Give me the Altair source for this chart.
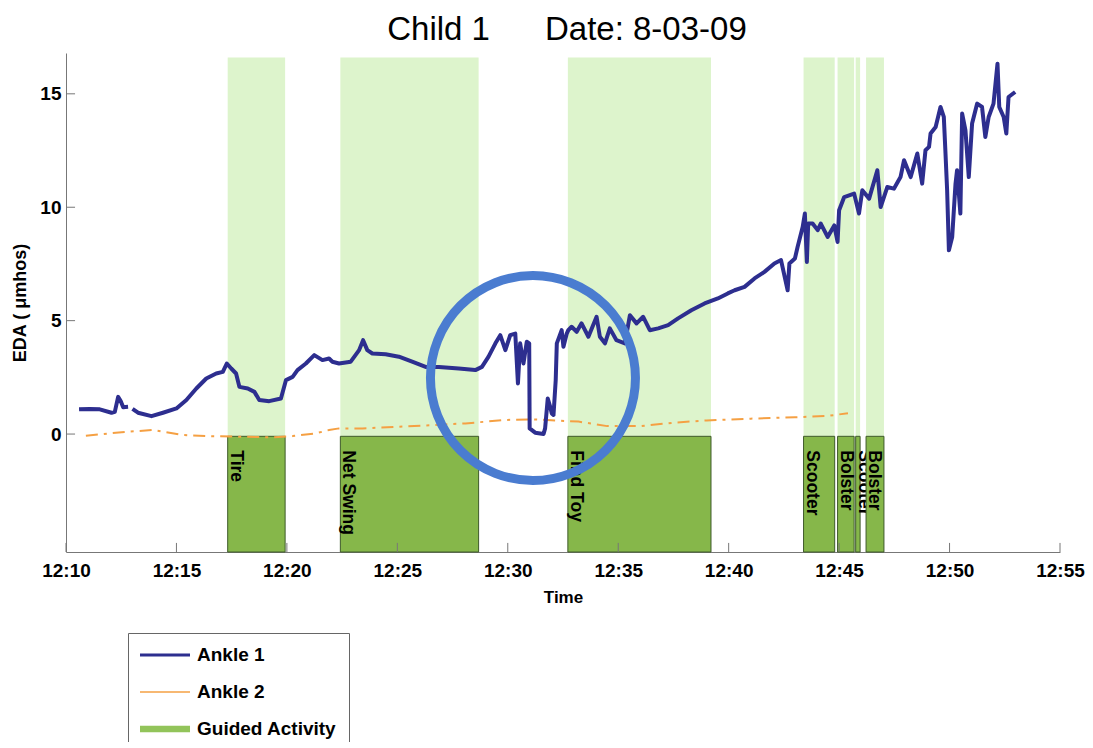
import altair as alt
import pandas as pd

# ---------------- data ----------------
# time in minutes after 12:00
ankle1_min = [10.59, 11.08, 11.53, 12.06, 12.21, 12.36, 12.47, 12.59, 12.81, 13.01, 13.26, 13.87,
              14.39, 15.00, 15.45, 15.90, 16.35, 16.80, 17.10, 17.28, 17.48, 17.70, 17.85, 18.23,
              18.53, 18.75, 19.20, 19.73, 19.96, 20.26, 20.48, 20.86, 21.24, 21.61, 21.91, 22.06,
              22.36, 22.89, 23.27, 23.45, 23.64, 23.87, 24.47, 25.07, 25.67, 26.28, 26.88, 27.78,
              28.53, 28.83, 29.13, 29.44, 29.66, 29.89, 30.11, 30.34, 30.46, 30.56, 30.71, 30.86,
              30.97, 30.99, 31.24, 31.62, 31.69, 31.81, 31.92, 31.99, 32.07, 32.17, 32.22, 32.44,
              32.52, 32.67, 32.74, 32.89, 33.12, 33.34, 33.65, 34.02, 34.17, 34.40, 34.62, 34.92,
              35.30, 35.53, 35.83, 36.13, 36.43, 36.81, 37.26, 37.71, 38.31, 38.91, 39.51, 39.96,
              40.27, 40.72, 41.17, 41.62, 42.07, 42.37, 42.67, 42.75, 43.00, 43.12, 43.35, 43.45,
              43.54, 43.60, 43.80, 44.03, 44.17, 44.48, 44.78, 44.93, 45.00, 45.23, 45.68, 45.90,
              46.05, 46.36, 46.73, 46.88, 47.18, 47.48, 47.78, 47.94, 48.24, 48.54, 48.76, 48.91,
              49.07, 49.14, 49.37, 49.59, 49.74, 49.81, 49.89, 49.97, 50.12, 50.27, 50.34, 50.49,
              50.57, 50.72, 50.87, 51.02, 51.25, 51.47, 51.62, 51.77, 51.99, 52.17, 52.25, 52.45,
              52.57, 52.67, 52.97]
ankle1_eda = [1.09, 1.11, 1.09, 0.94, 0.98, 1.64, 1.47, 1.18, 1.20, 1.11, 0.94, 0.79,
              0.94, 1.13, 1.50, 2.01, 2.45, 2.67, 2.74, 3.11, 2.89, 2.67, 2.08, 2.01,
              1.86, 1.50, 1.45, 1.57, 2.38, 2.52, 2.82, 3.11, 3.48, 3.26, 3.33, 3.19,
              3.11, 3.19, 3.70, 4.14, 3.70, 3.55, 3.52, 3.41, 3.19, 2.96, 2.96, 2.89,
              2.82, 2.96, 3.41, 4.00, 4.36, 3.70, 4.36, 4.43, 2.23, 4.00, 3.11, 4.07,
              4.00, 0.25, 0.06, 0.00, 0.25, 1.57, 1.20, 0.91, 0.84, 2.38, 4.00, 4.58,
              3.85, 4.43, 4.58, 4.73, 4.51, 4.88, 4.29, 5.17, 4.29, 4.00, 4.66, 4.14,
              4.00, 5.24, 4.88, 5.17, 4.58, 4.66, 4.80, 5.10, 5.46, 5.76, 5.98, 6.20,
              6.34, 6.49, 6.86, 7.15, 7.52, 7.67, 6.34, 7.52, 7.74, 8.25, 9.13, 9.72,
              7.59, 9.28, 9.28, 8.99, 9.28, 8.69, 9.20, 8.47, 9.87, 10.45, 10.60, 9.72,
              10.75, 10.38, 11.63, 10.01, 10.89, 10.82, 11.33, 12.07, 11.33, 12.37, 11.04, 12.51,
              12.66, 13.25, 13.54, 14.42, 13.98, 12.51, 10.75, 8.10, 8.69, 11.04, 11.63, 9.72,
              14.13, 13.39, 11.33, 13.69, 14.57, 14.42, 13.10, 13.98, 14.57, 16.33, 14.42, 13.98,
              13.25, 14.86, 15.08]
# recording gaps (minutes) where the Ankle 1 trace is interrupted
ankle1_gaps = [12.9]

ankle2_min = [10.9, 12.74, 13.94, 15.29, 16.50, 18.15, 19.36, 20.26, 21.31, 21.91, 22.36, 23.42,
              25.07, 28.08, 29.89, 31.09, 33.2, 34.5, 36.0, 37.5, 39.0, 41.0, 43.0, 44.5, 45.4]
ankle2_eda = [-0.07, 0.10, 0.18, -0.04, -0.09, -0.12, -0.15, -0.09, 0.03, 0.18, 0.25, 0.25,
              0.32, 0.47, 0.62, 0.65, 0.55, 0.35, 0.35, 0.50, 0.60, 0.68, 0.74, 0.80, 0.92]

activity_names = ["Tire", "Net Swing", "Find Toy", "Scooter", "Bolster", "Scooter", "Bolster"]
activity_start = [17.32, 22.42, 32.72, 43.39, 44.93, 45.75, 46.22]
activity_end = [19.92, 28.68, 39.20, 44.80, 45.68, 45.95, 47.03]
box_bottom = -5.2
box_top = -0.1
band_top = 16.6

x_ticks = [10, 15, 20, 25, 30, 35, 40, 45, 50, 55]
y_ticks = [0, 5, 10, 15]
x_domain = [10, 55]
y_domain = [-5.2, 16.8]

circle_min = [31.14]
circle_eda = [2.47]

series_names = ["Ankle 1", "Ankle 2", "Guided Activity"]
series_colors = ["#2D2E8F", "#F5A043", "#92C45A"]
legend_paths = ["M-2.5,-0.15H2.5V0.15H-2.5Z", "M-2.5,-0.08H2.5V0.08H-2.5Z",
                "M-2.5,-0.33H2.5V0.33H-2.5Z"]

# ---------------- tables ----------------
a1 = pd.DataFrame({"t": ankle1_min, "v": ankle1_eda})
a1["seg"] = [sum(1 for g in ankle1_gaps if g < t) for t in ankle1_min]
a2 = pd.DataFrame({"t": ankle2_min, "v": ankle2_eda})
act = pd.DataFrame({"name": activity_names, "t": activity_start, "t2": activity_end,
                    "idx": list(range(len(activity_names)))})
act["lo"] = box_bottom
act["hi"] = box_top
act["top"] = band_top
xt = pd.DataFrame({"t": x_ticks, "v": y_domain[0], "v2": y_domain[0] + 0.4})
yt = pd.DataFrame({"v": y_ticks, "t": x_domain[0], "t2": x_domain[0] + 0.41})
circ = pd.DataFrame({"t": circle_min, "v": circle_eda})
leg = pd.DataFrame({"series": series_names, "t": [20, 20, 20], "v": [0, 0, 0]})

FONT = "Liberation Sans"
xs = alt.Scale(domain=x_domain, nice=False, zero=False)
ys = alt.Scale(domain=y_domain, nice=False, zero=False)
cs = alt.Scale(domain=series_names, range=series_colors)

x_axis = alt.Axis(values=x_ticks, labelExpr="'12:' + datum.value", title="Time", grid=False,
                  ticks=False, tickSize=0, domainColor="#777", labelFont=FONT, labelFontSize=19,
                  labelFontWeight="bold", labelColor="black", labelPadding=9, labelFlush=False,
                  titleFont=FONT, titleFontSize=17, titleFontWeight="bold", titleColor="black",
                  titlePadding=9)
y_axis = alt.Axis(values=y_ticks, title="EDA ( \u03bcmhos)", grid=False, ticks=False, tickSize=0,
                  domainColor="#777", labelFont=FONT, labelFontSize=19, labelFontWeight="bold",
                  labelColor="black", labelPadding=5, titleFont=FONT, titleFontSize=18,
                  titleFontWeight="bold", titleColor="black", titlePadding=10)


def X(field="t", axis=alt.Undefined):
    return alt.X(f"{field}:Q", scale=xs, axis=axis)


def Y(field="v", axis=alt.Undefined):
    return alt.Y(f"{field}:Q", scale=ys, axis=axis)


bands = alt.Chart(act).mark_rect(color="#DDF4CC").encode(
    x=X("t", x_axis), x2="t2", y=Y("hi", y_axis), y2="top")

boxes_a = alt.Chart(act).transform_filter("datum.idx < 6").mark_rect(
    color="#86B74A", stroke="#3E5A2A", strokeWidth=1).encode(x=X(), x2="t2", y=Y("lo"), y2="hi")
labels_a = alt.Chart(act).transform_filter("datum.idx < 6").mark_text(
    angle=90, align="left", baseline="alphabetic", dx=14, dy=-3, font=FONT, fontSize=17.5,
    fontWeight="bold", color="black").encode(x=X(), y=Y("hi"), text="name:N")
boxes_b = alt.Chart(act).transform_filter("datum.idx >= 6").mark_rect(
    color="#86B74A", stroke="#3E5A2A", strokeWidth=1).encode(x=X(), x2="t2", y=Y("lo"), y2="hi")
labels_b = alt.Chart(act).transform_filter("datum.idx >= 6").mark_text(
    angle=90, align="left", baseline="alphabetic", dx=14, dy=-3, font=FONT, fontSize=17.5,
    fontWeight="bold", color="black").encode(x=X(), y=Y("hi"), text="name:N")

line2 = alt.Chart(a2).mark_line(strokeWidth=2, strokeDash=[12, 6, 3, 6],
                                color=series_colors[1]).encode(x=X(), y=Y())
line1 = alt.Chart(a1).mark_line(strokeWidth=4, strokeJoin="round",
                                color=series_colors[0]).encode(x=X(), y=Y(), detail="seg:N")

xtick = alt.Chart(xt).mark_rule(color="#777", strokeWidth=1).encode(x=X(), y=Y(), y2="v2")
ytick = alt.Chart(yt).mark_rule(color="#777", strokeWidth=1).encode(x=X(), x2="t2", y=Y())

ring = alt.Chart(circ).mark_point(shape="circle", filled=False, size=42025, strokeWidth=9,
                                  color="#4A7CD0", opacity=1).encode(x=X(), y=Y())

legend_layer = alt.Chart(leg).transform_filter("false").mark_point(
    filled=True, size=400, opacity=1).encode(
    x=X(), y=Y(),
    color=alt.Color("series:N", scale=cs, legend=alt.Legend(
        title=None, orient="none", legendX=62, legendY=580, labelFont=FONT, labelFontSize=19,
        labelFontWeight="bold", labelColor="black", symbolSize=400, symbolStrokeWidth=0,
        symbolOffset=15, padding=12, rowPadding=17, labelOffset=22, strokeColor="#666",
        fillColor="white", symbolOpacity=1)),
    shape=alt.Shape("series:N", scale=alt.Scale(domain=series_names, range=legend_paths),
                    legend=alt.Legend(title=None, orient="none", legendX=62, legendY=580)))

chart = alt.layer(bands, boxes_a, labels_a, boxes_b, labels_b, line2, line1, xtick, ytick, ring,
                  legend_layer).properties(
    width=994, height=499,
    title=alt.TitleParams("Child 1\u00a0\u00a0\u00a0\u00a0\u00a0\u00a0Date: 8-03-09",
                          font=FONT, fontSize=33, fontWeight="normal", color="black",
                          anchor="middle", offset=6, dx=4),
    autosize=alt.AutoSizeParams(type="none"),
    padding={"left": 58, "top": 45, "right": 25, "bottom": 190},
).configure(font=FONT).configure_view(stroke="transparent")

chart.save("out.html", embed_options={"renderer": "svg", "actions": False})
